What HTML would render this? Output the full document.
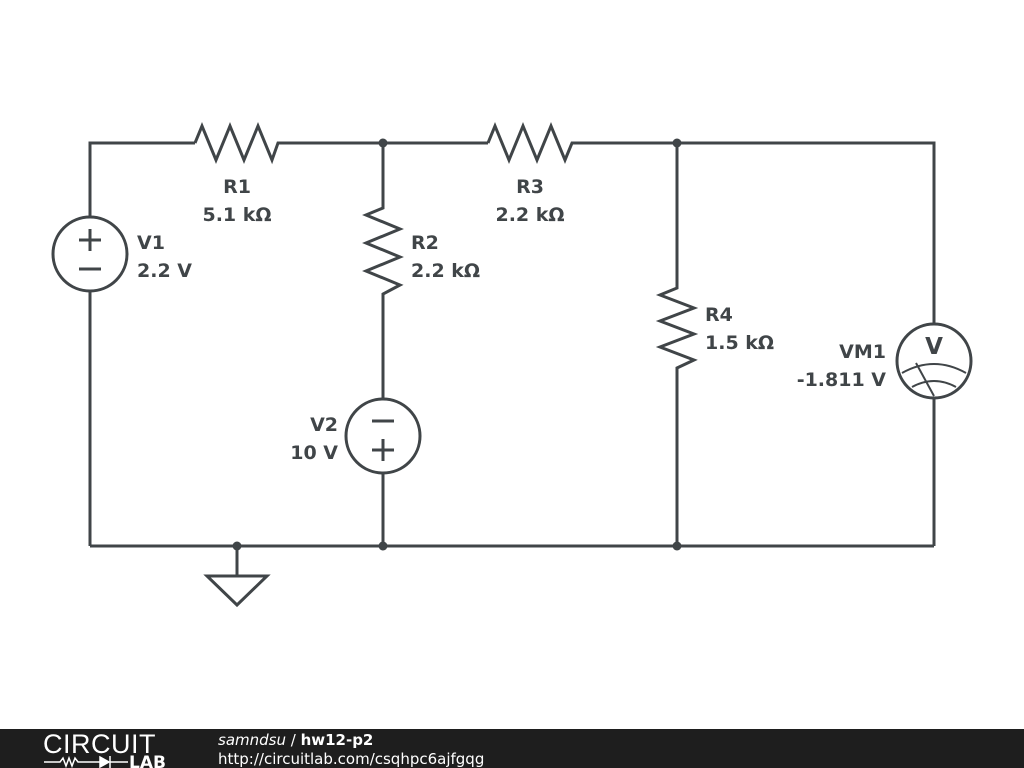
<!DOCTYPE html>
<html><head><meta charset="utf-8"><style>
html,body{margin:0;padding:0;background:#fff;width:1024px;height:768px;overflow:hidden}
text{font-family:"DejaVu Sans","Liberation Sans",sans-serif;font-weight:bold;font-size:19px;fill:#404548}
</style></head><body>
<svg width="1024" height="768" viewBox="0 0 1024 768" xmlns="http://www.w3.org/2000/svg">
<g stroke="#404548" stroke-width="3" fill="none" stroke-linejoin="miter">
<polyline points="90,217 90,143 195,143"/>
<polyline points="195,143 202,126 216,160 230,126 244,160 258,126 272,160 278,143 488,143"/>
<polyline points="488,143 495,126 509,160 523,126 537,160 551,126 565,160 572,143 934,143 934,324"/>
<circle cx="90" cy="254" r="37"/>
<line x1="90" y1="291" x2="90" y2="546"/>
<line x1="79" y1="240" x2="101" y2="240"/><line x1="90" y1="229" x2="90" y2="251"/>
<line x1="79" y1="269" x2="101" y2="269"/>
<polyline points="383,143 383,208 366,215 400,229 366,243 400,257 366,271 400,285 383,294 383,399"/>
<circle cx="383" cy="436" r="37"/>
<line x1="383" y1="473" x2="383" y2="546"/>
<line x1="372" y1="421" x2="394" y2="421"/>
<line x1="372" y1="450" x2="394" y2="450"/><line x1="383" y1="439" x2="383" y2="461"/>
<polyline points="677,143 677,288 660,295 694,308 660,321 694,334 660,347 694,360 677,368 677,546"/>
<circle cx="934" cy="361" r="37"/>
<line x1="934" y1="398" x2="934" y2="546"/>
<path d="M902,373 Q934,355 966,373" stroke-width="2"/>
<path d="M912,387 Q934,375 956,387" stroke-width="2"/>
<line x1="916" y1="363" x2="934" y2="396" stroke-width="2"/>
<line x1="90" y1="546" x2="934" y2="546"/>
<line x1="237" y1="546" x2="237" y2="576"/>
<polygon points="207,576 267,576 237,605"/>
</g>
<text x="934" y="354" text-anchor="middle" style="font-size:23px">V</text>
<g fill="#404548">
<circle cx="383" cy="143" r="4.5"/><circle cx="677" cy="143" r="4.5"/>
<circle cx="237" cy="546" r="4.5"/><circle cx="383" cy="546" r="4.5"/><circle cx="677" cy="546" r="4.5"/>
</g>
<text x="237" y="193" text-anchor="middle">R1</text>
<text x="237" y="221" text-anchor="middle">5.1 kΩ</text>
<text x="530" y="193" text-anchor="middle">R3</text>
<text x="530" y="221" text-anchor="middle">2.2 kΩ</text>
<text x="137" y="249">V1</text>
<text x="137" y="277">2.2 V</text>
<text x="411" y="249">R2</text>
<text x="411" y="277">2.2 kΩ</text>
<text x="705" y="321">R4</text>
<text x="705" y="349">1.5 kΩ</text>
<text x="886" y="358" text-anchor="end">VM1</text>
<text x="886" y="386" text-anchor="end">-1.811 V</text>
<text x="338" y="431" text-anchor="end">V2</text>
<text x="338" y="459" text-anchor="end">10 V</text>
<rect x="0" y="729" width="1024" height="39" fill="#1e1e1e"/>
<text x="43" y="753" style="font-family:'Liberation Sans',sans-serif;font-weight:normal;font-size:27px;fill:#fff;letter-spacing:0.5px">CIRCUIT</text>
<g stroke="#fff" stroke-width="1.5" fill="none">
<polyline points="44,762 60,762 63,758 66,766 69,758 72,766 75,758 78,762 100,762"/>
<polygon points="100,757 100,767 109,762" fill="#fff"/>
<line x1="110" y1="756" x2="110" y2="768"/><line x1="110" y1="762" x2="128" y2="762"/>
</g>
<text x="129" y="768" style="font-size:17px;fill:#fff;font-weight:bold">LAB</text>
<text x="218" y="745" style="font-size:15px;fill:#fff;font-weight:normal"><tspan font-style="italic">samndsu</tspan> / <tspan font-weight="bold">hw12-p2</tspan></text>
<text x="218" y="764" style="font-size:15px;fill:#fff;font-weight:normal">http://circuitlab.com/csqhpc6ajfgqg</text>
</svg>
</body></html>
